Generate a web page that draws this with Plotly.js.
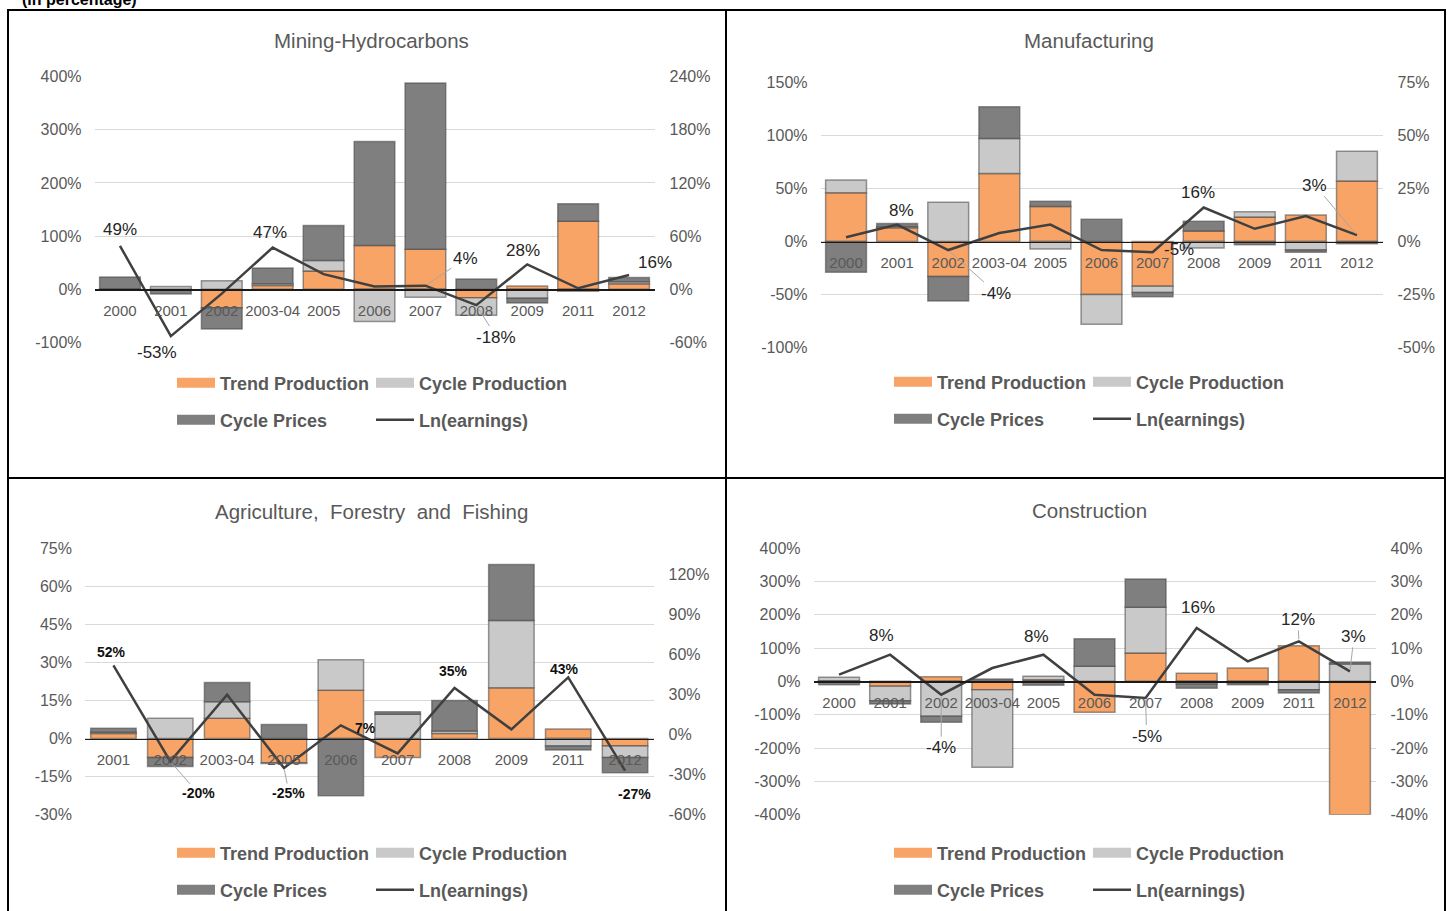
<!DOCTYPE html>
<html><head><meta charset="utf-8">
<script src="https://cdn.plot.ly/plotly-3.0.1.min.js"></script>
<style>html,body{margin:0;padding:0;background:#fff;overflow:hidden}#chart{width:1452px;height:911px}</style>
</head><body><div id="chart"></div>
<script>
// ---------------- DATA ----------------
const years_full = ['2000','2001','2002','2003-04','2005','2006','2007','2008','2009','2011','2012'];
const years_agri = ['2001','2002','2003-04','2005','2006','2007','2008','2009','2011','2012'];
const series_names = ['Trend Production','Cycle Production','Cycle Prices','Ln(earnings)'];

const mining_title = 'Mining-Hydrocarbons';
const mining_trend = [1, -2, -35, 7, 34, 82, 75, -16, 6, 128, 10];
const mining_cycle_production = [0, 5, 16, 3, 20, -61, -15, -33, -17, -4, 4];
const mining_cycle_prices = [22, -7, -40, 30, 66, 196, 313, 19, -9, 33, 8];
const mining_ln = [49, -53, -5, 47, 17, 3, 4, -18, 28, 1, 16];
const mining_left_ticks = [-100, 0, 100, 200, 300, 400];
const mining_right_ticks = [-60, 0, 60, 120, 180, 240];

const manu_title = 'Manufacturing';
const manu_trend = [46, 13, -33, 64, 33, -50, -42, 10, 23, 25, 57];
const manu_cycle_production = [12, 1, 37, 33, -7, -28, -6, -6, 5, -8, 28];
const manu_cycle_prices = [-29, 3, -23, 30, 5, 21, -4, 9, -3, -2, -2];
const manu_ln = [2, 8, -4, 4, 8, -4, -5, 16, 6, 12, 3];
const manu_left_ticks = [-100, -50, 0, 50, 100, 150];
const manu_right_ticks = [-50, -25, 0, 25, 50, 75];

const agri_title = 'Agriculture,  Forestry  and  Fishing';
const agri_trend = [2, -7.5, 8, -9.5, 19, -7.5, 2, 20, 3.7, -3];
const agri_cycle_production = [0.5, 8, 6.5, -0.3, 12, 9.5, 1, 26.5, -3, -4.5];
const agri_cycle_prices = [1.5, -3.5, 7.5, 5.5, -22.5, 1, 12, 22, -1.5, -6];
const agri_ln = [52, -20, 30, -25, 7, -14, 35, 4, 43, -27];
const agri_left_ticks = [-30, -15, 0, 15, 30, 45, 60, 75];
const agri_right_ticks = [-60, -30, 0, 30, 60, 90, 120];

const cons_title = 'Construction';
const cons_trend = [2, -15, 14, -25, 5, -93, 85, 24, 40, 107, -400];
const cons_cycle_production = [10, -43, -105, -233, 10, 45, 137, -8, -5, -25, 52];
const cons_cycle_prices = [-10, -10, -18, 7, -12, 83, 85, -13, -5, -10, 6];
const cons_ln = [2, 8, -4, 4, 8, -4, -5, 16, 6, 12, 3];
const cons_left_ticks = [-400, -300, -200, -100, 0, 100, 200, 300, 400];
const cons_right_ticks = [-40, -30, -20, -10, 0, 10, 20, 30, 40];

// ---------------- STYLE / LAYOUT ----------------
const W = 1452, H = 911;
const FONT = 'Liberation Sans, Arial, sans-serif';
const GRAY_TXT = '#595959';
const COLORS = ['#F8A466', '#C9C9C9', '#7F7F7F', '#404040'];
const pct = v => String(v) + '%';
const pxX = x => x / W;
const pxY = y => 1 - y / H;

const panels = [
  {cats: years_full, s: [mining_trend, mining_cycle_production, mining_cycle_prices], ln: mining_ln,
   title: mining_title, lt: mining_left_ticks, rt: mining_right_ticks, rr: [-60, 240],
   box: {x0: 94.5, x1: 654.5, y0: 76.7, y1: 342.3}, tpos: [371, 40], legX: 172, legY: [383, 420],
   lblFont: {size: 17, color: '#262626', weight: 'normal'},
   labels: [{i:0,dx:0,dy:-16},{i:1,dx:-14,dy:16},{i:3,dx:-3,dy:-15},{i:6,dx:40,dy:-27,a:1},
            {i:7,dx:20,dy:32,a:1},{i:8,dx:-4,dy:-14},{i:10,dx:26,dy:-13}]},
  {cats: years_full, s: [manu_trend, manu_cycle_production, manu_cycle_prices], ln: manu_ln,
   title: manu_title, lt: manu_left_ticks, rt: manu_right_ticks, rr: [-50, 75],
   box: {x0: 820.5, x1: 1382.5, y0: 82.3, y1: 347.7}, tpos: [1089, 40], legX: 889, legY: [382, 419],
   lblFont: {size: 17, color: '#262626', weight: 'normal'},
   labels: [{i:1,dx:4,dy:-14},{i:2,dx:48,dy:43,a:1},{i:6,dx:26,dy:-3},{i:7,dx:-6,dy:-15},
            {i:10,dx:-42,dy:-50,a:1}]},
  {cats: years_agri, s: [agri_trend, agri_cycle_production, agri_cycle_prices], ln: agri_ln,
   title: agri_title, lt: agri_left_ticks, rt: agri_right_ticks, rr: [-60, 140],
   box: {x0: 85, x1: 653.5, y0: 548, y1: 814.7}, tpos: [371, 511], legX: 172, legY: [853, 890],
   lblFont: {size: 14, color: '#111', weight: 'bold'},
   labels: [{i:0,dx:-2,dy:-13},{i:1,dx:28,dy:32,a:1},{i:3,dx:5,dy:25,a:1},{i:4,dx:25,dy:3},
            {i:6,dx:-1,dy:-17},{i:8,dx:-4,dy:-8},{i:9,dx:9,dy:23}]},
  {cats: years_full, s: [cons_trend, cons_cycle_production, cons_cycle_prices], ln: cons_ln,
   title: cons_title, lt: cons_left_ticks, rt: cons_right_ticks, rr: [-40, 40],
   box: {x0: 813.5, x1: 1375.5, y0: 548, y1: 814.7}, tpos: [1089, 510], legX: 889, legY: [853, 890],
   lblFont: {size: 17, color: '#262626', weight: 'normal'},
   labels: [{i:1,dx:-9,dy:-19},{i:2,dx:0,dy:53,a:1},{i:4,dx:-7,dy:-18},{i:6,dx:1,dy:38,a:1},
            {i:7,dx:1,dy:-21},{i:9,dx:-1,dy:-22,a:1},{i:10,dx:4,dy:-35,a:1}]}
];

const traces = [];
const layout = {
  width: W, height: H, margin: {l: 0, r: 0, t: 0, b: 0},
  paper_bgcolor: '#ffffff', plot_bgcolor: 'rgba(0,0,0,0)',
  barmode: 'relative', bargap: 0.2, hovermode: false, showlegend: true,
  font: {family: FONT, color: GRAY_TXT},
  annotations: [], shapes: []
};

panels.forEach((p, k) => {
  const xid = k === 0 ? 'x' : 'x' + (k + 1);
  const ylN = 2 * k + 1, yrN = 2 * k + 2;
  const yl = ylN === 1 ? 'y' : 'y' + ylN;
  const yr = 'y' + yrN;
  const xKey = 'xaxis' + (k === 0 ? '' : k + 1);
  const ylKey = 'yaxis' + (ylN === 1 ? '' : ylN);
  const yrKey = 'yaxis' + yrN;
  const lr = [Math.min(...p.lt), Math.max(...p.lt)];
  const yd = [pxY(p.box.y1), pxY(p.box.y0)];
  const zeroPos = yd[0] + (0 - lr[0]) / (lr[1] - lr[0]) * (yd[1] - yd[0]);
  const legA = 'legend' + (2 * k + 1 === 1 ? '' : 2 * k + 1);
  const legB = 'legend' + (2 * k + 2);

  layout[xKey] = {domain: [pxX(p.box.x0), pxX(p.box.x1)], anchor: 'free', position: zeroPos,
    type: 'category', categoryorder: 'array', categoryarray: p.cats,
    range: [-0.5, p.cats.length - 0.5], autorange: false,
    showline: true, linecolor: '#1a1a1a', linewidth: 1.5, ticks: '',
    showgrid: false, zeroline: false, layer: 'above traces', ticklabelstandoff: 7,
    tickfont: {family: FONT, size: 15, color: GRAY_TXT}, fixedrange: true};
  layout[ylKey] = {domain: yd, anchor: xid, range: lr, autorange: false, tickvals: p.lt, ticktext: p.lt.map(pct),
    showgrid: true, gridcolor: '#D9D9D9', gridwidth: 1, zeroline: false, showline: false, ticks: '',
    ticklabelstandoff: 12, tickfont: {family: FONT, size: 16, color: GRAY_TXT}, fixedrange: true};
  layout[yrKey] = {overlaying: yl, side: 'right', anchor: xid, range: p.rr, autorange: false, tickvals: p.rt,
    ticktext: p.rt.map(pct), showgrid: false, zeroline: false, showline: false, ticks: '',
    ticklabelstandoff: 14, tickfont: {family: FONT, size: 16, color: GRAY_TXT}, fixedrange: true};

  // stacked bars
  p.s.forEach((vals, j) => {
    traces.push({type: 'bar', x: p.cats, y: vals, name: series_names[j], xaxis: xid, yaxis: yl,
      showlegend: false,
      marker: {color: COLORS[j], line: {color: 'rgba(70,70,70,0.55)', width: 1.5}}});
  });
  // legend swatches for the bar series (wide rectangles, as in the original legend)
  p.s.forEach((vals, j) => {
    traces.push({type: 'scatter', mode: 'lines', x: [null], y: [null], name: series_names[j],
      xaxis: xid, yaxis: yl, legend: j < 2 ? legA : legB, showlegend: true,
      line: {color: COLORS[j], width: 13}});
  });
  traces.push({type: 'scatter', mode: 'lines', x: p.cats, y: p.ln, name: series_names[3],
    xaxis: xid, yaxis: yr, legend: legB, line: {color: COLORS[3], width: 2.5}});

  [legA, legB].forEach((lg, r) => {
    layout[lg] = {orientation: 'h', x: pxX(p.legX), xanchor: 'left', y: pxY(p.legY[r]), yanchor: 'middle',
      font: {family: FONT, size: 18, color: GRAY_TXT, weight: 'bold'}, itemwidth: 38,
      entrywidth: 146, entrywidthmode: 'pixels', traceorder: 'normal', bgcolor: 'rgba(0,0,0,0)',
      borderwidth: 0, itemclick: false, itemdoubleclick: false};
  });

  layout.annotations.push({xref: 'paper', yref: 'paper', x: pxX(p.tpos[0]), y: pxY(p.tpos[1]),
    xanchor: 'center', yanchor: 'middle', showarrow: false, text: p.title,
    font: {family: FONT, size: 20.5, color: GRAY_TXT}});

  p.labels.forEach(l => {
    // category axes take the category's serial number for annotations
    const base = {xref: xid, yref: yr, x: l.i, y: p.ln[l.i], text: pct(p.ln[l.i]),
      font: Object.assign({family: FONT}, p.lblFont)};
    if (l.a) {
      layout.annotations.push(Object.assign(base, {showarrow: true, arrowhead: 0, arrowwidth: 1,
        arrowcolor: '#A6A6A6', ax: l.dx, ay: l.dy, standoff: 2}));
    } else {
      layout.annotations.push(Object.assign(base, {showarrow: false, xshift: l.dx, yshift: -l.dy}));
    }
  });
});

// header text (partially cut off at top, as in the original) and panel frames
layout.annotations.push({xref: 'paper', yref: 'paper', x: pxX(20), y: 1, xanchor: 'left', yanchor: 'middle',
  yshift: 1, showarrow: false, text: '(in percentage)',
  font: {family: FONT, size: 16, color: '#000', weight: 'bold'}});
[[8, 10, 726, 478], [726, 10, 1445, 478], [8, 478, 726, 920], [726, 478, 1445, 920]].forEach(b => {
  layout.shapes.push({type: 'rect', xref: 'paper', yref: 'paper', x0: pxX(b[0]), x1: pxX(b[2]),
    y0: pxY(b[3]), y1: pxY(b[1]), line: {color: '#000', width: 2}, fillcolor: 'rgba(0,0,0,0)'});
});

Plotly.newPlot('chart', traces, layout, {displayModeBar: false, staticPlot: true});
</script>
</body></html>
